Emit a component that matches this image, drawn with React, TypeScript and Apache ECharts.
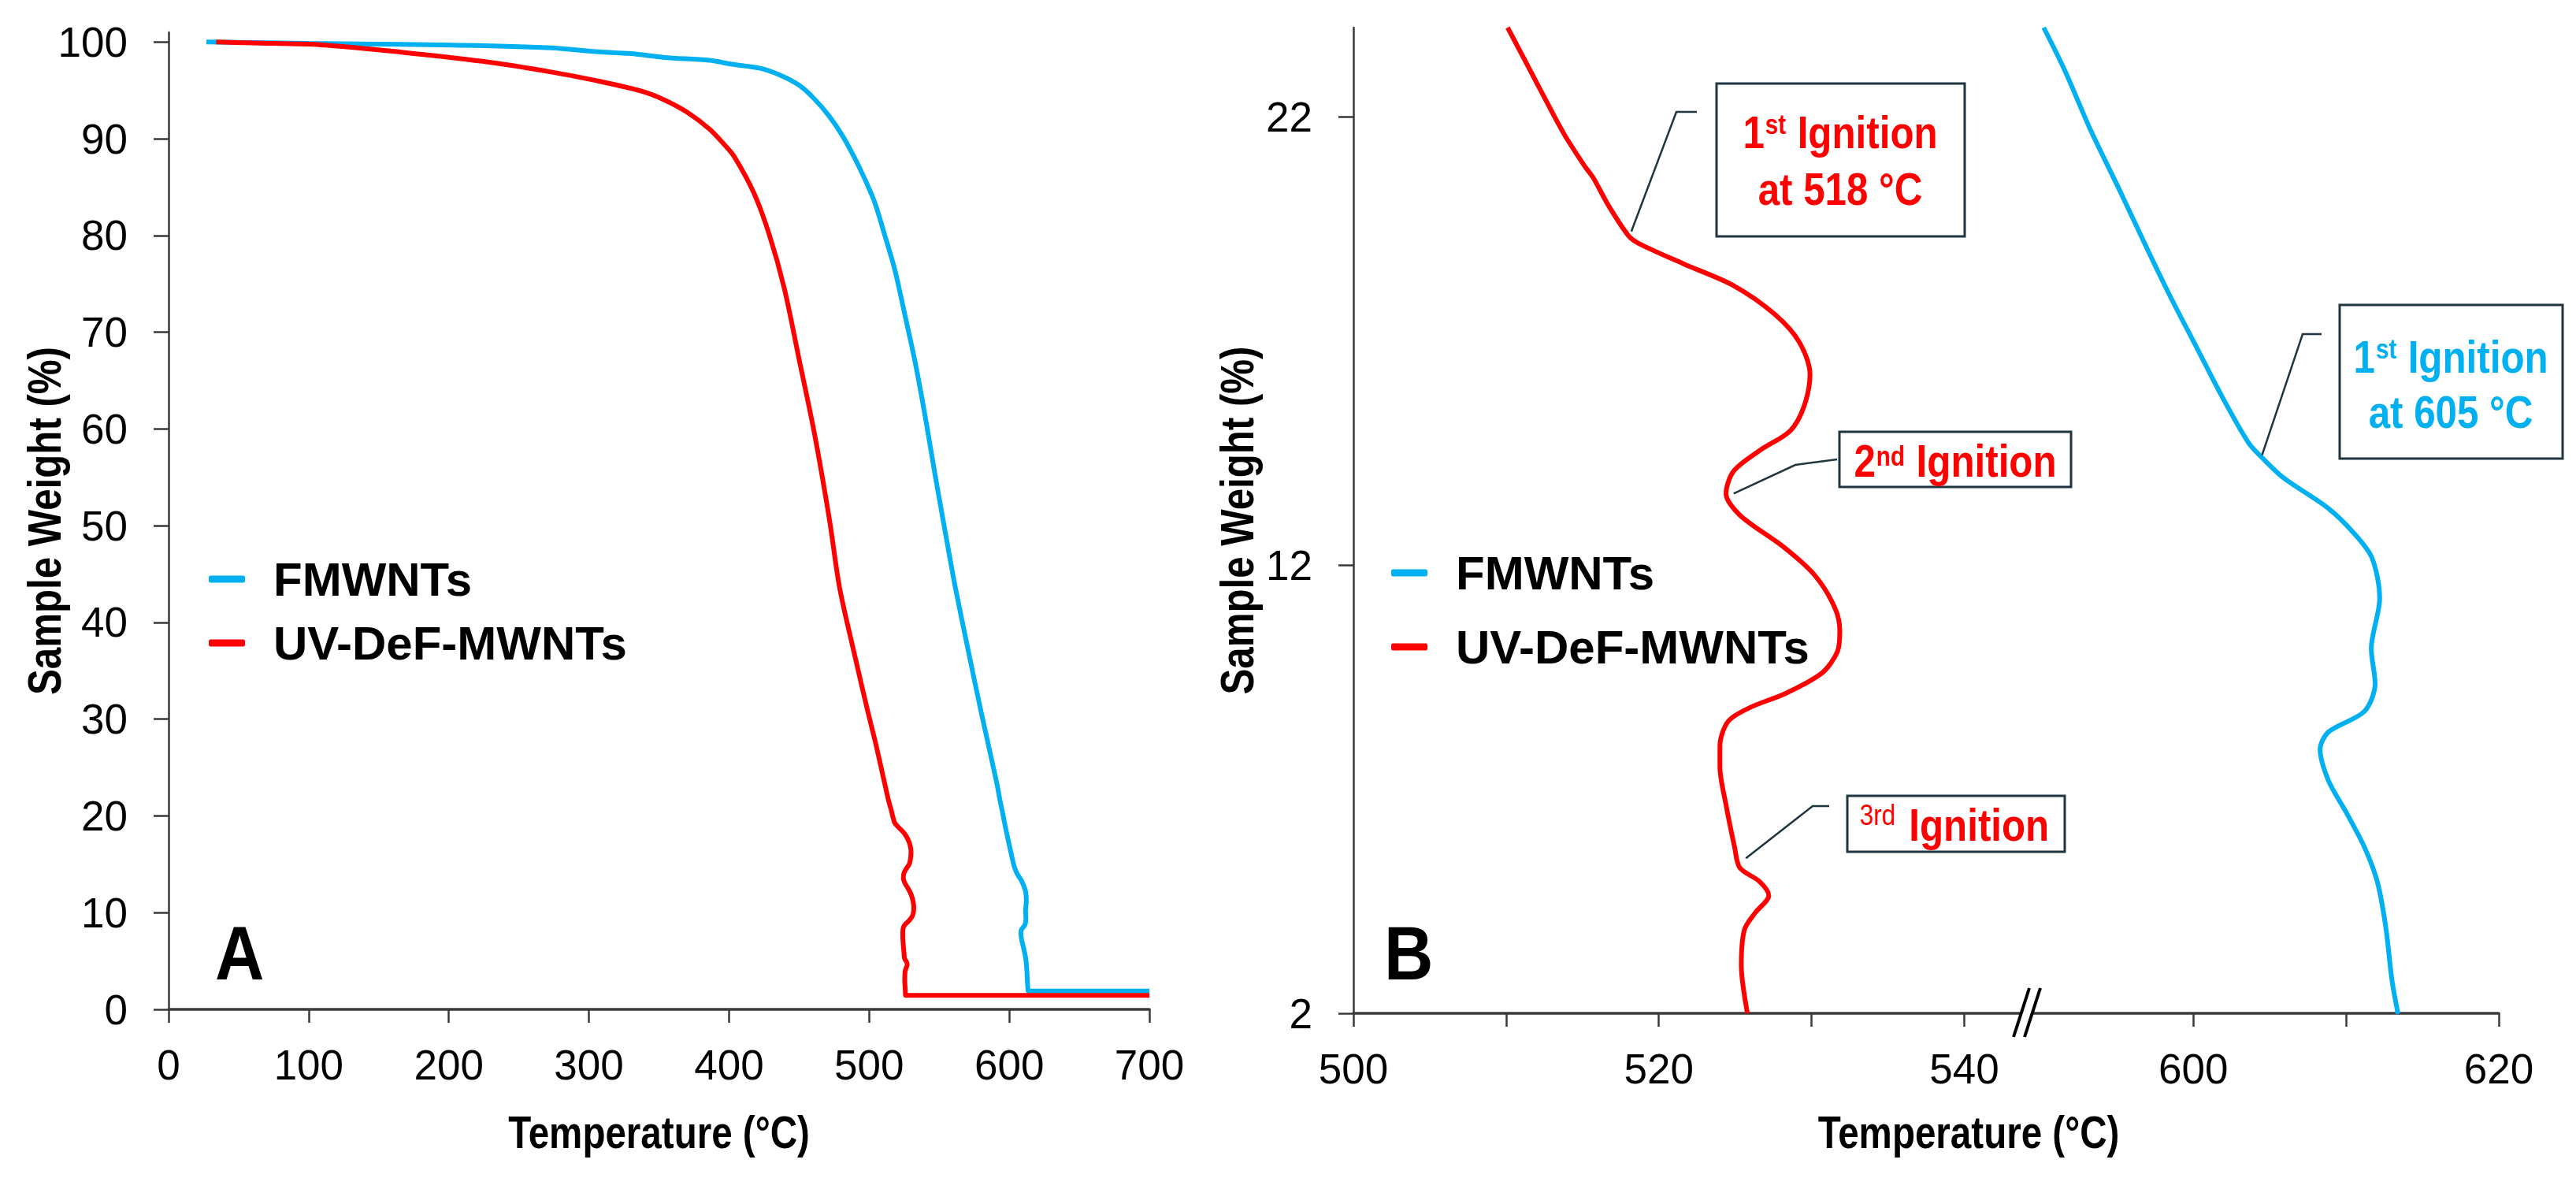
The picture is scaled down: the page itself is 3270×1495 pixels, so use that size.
import React, { useEffect, useRef } from "react";
import * as echarts from "echarts";

const FONT = "'Liberation Sans', Arial, sans-serif";
const NARROW = 0.82; // the original figure uses a condensed face
const BLUE = "#00B0F0";
const RED = "#FF0000";
const AXIS = "#3a3a3a";
const NOTE_BORDER = "#1F3540";

const seriesNames = ["FMWNTs", "UV-DeF-MWNTs"];
const xTitle = "Temperature (°C)";
const yTitle = "Sample Weight (%)";

// Panel A axes
const tempTicksA = [0, 100, 200, 300, 400, 500, 600, 700];
const weightTicksA = [0, 10, 20, 30, 40, 50, 60, 70, 80, 90, 100];
// Panel B axes (broken temperature axis)
const tempLabelsB = [500, 520, 540, 600, 620];
const tempTicksB = [500, 510, 520, 530, 540, 600, 610, 620];
const weightTicksB = [2, 12, 22];

// FMWNTs (°C, %)
const fmwntsUpper = [
  [27, 100.0], [100, 99.85], [195, 99.7], [273, 99.4], [305, 99.0], [330, 98.8], [354, 98.4],
  [386, 98.1], [402, 97.7], [421.6, 97.3], [436, 96.6], [450.3, 95.5], [461, 94.1], [471.7, 92.3],
  [481, 90.3], [489.7, 88.0], [497, 85.8], [504, 83.4], [511, 80.1], [518.4, 76.4], [525.5, 71.8],
  [532.7, 67.0], [540, 61.3], [547, 55.3], [554, 49.6], [561, 44.0], [570, 37.6], [580, 30.7],
];
const fmwntsDetail = [
  [590.2, 24.0], [591.6, 23.03], [593.3, 21.69], [595.06, 20.45], [597.06, 19.0], [598.5, 17.99],
  [600.2, 16.87], [601.9, 15.75], [603.6, 14.74], [604.5, 14.4], [605.9, 13.95], [608.8, 13.28],
  [610.5, 12.72], [611.7, 12.16], [612.2, 11.26], [611.65, 10.14], [611.9, 9.36], [611.2, 8.74],
  [608.85, 8.28], [608.3, 7.89], [608.85, 7.19], [610.0, 6.49], [611.2, 5.71], [612.05, 4.93],
  [612.6, 3.92], [613.0, 2.75], [613.4, 1.99],
];
const fmwntsTail = [[613.7, 1.9], [700, 1.9]];

// UV-DeF-MWNTs (°C, %)
const uvUpper = [
  [34, 100.0], [60, 99.9], [109, 99.7], [166, 98.95], [224, 98.0], [273, 96.9], [305.5, 96.0],
  [338, 94.9], [354, 94.0], [370, 92.75], [386, 91.0], [396, 89.5], [403.5, 88.2], [417.7, 84.4],
  [428.7, 80.1], [439.5, 74.5], [450.3, 67.0], [461, 59.5], [471.7, 50.6], [478.9, 43.6],
  [489.7, 36.6], [498.7, 31.0], [504.5, 27.6],
];
const uvDetail = [
  [510.1, 24.0], [511.8, 22.9], [513.75, 21.65], [515.1, 20.93], [515.7, 20.65], [516.7, 20.03],
  [518.0, 19.36], [518.7, 19.18], [521.6, 18.73], [524.9, 18.24], [527.6, 17.6], [529.2, 16.98],
  [529.9, 16.26], [529.5, 15.54], [528.6, 15.0], [526.6, 14.56], [524.9, 14.1], [524.4, 13.6],
  [525.3, 13.12], [528.2, 12.4], [530.2, 11.78], [531.5, 11.07], [531.85, 10.54], [531.7, 10.08],
  [530.7, 9.6], [528.3, 9.14], [526.0, 8.83], [524.55, 8.52], [524.0, 7.97], [524.0, 7.5],
  [524.4, 6.65], [524.96, 5.71], [525.3, 5.25], [526.6, 4.94], [527.2, 4.63], [526.3, 4.24],
  [525.6, 3.86], [525.4, 3.08], [525.8, 2.0],
];
const uvTail = [[526.0, 1.45], [700, 1.45]];

// Broken axis mapping for panel B: 500–544.5 and 589–620 on one value axis
const toV = (t: number) => (t <= 544.5 ? t - 500 : t - 545);
const fromV = (v: number) => (v <= 44.25 ? v + 500 : v + 545);
const breakV = 44;

// Annotation anchors on curves (°C, %)
const note1Anchor = [518.2, 19.45];
const note2Anchor = [524.9, 13.6];
const note3Anchor = [525.7, 5.46];
const note4Anchor = [604.5, 14.46];

const axisCommon = {
  axisLine: { show: true, onZero: false, lineStyle: { color: AXIS, width: 2.5 } },
  splitLine: { show: false },
};

export default function App() {
  const ref = useRef<HTMLDivElement>(null);

  useEffect(() => {
    document.body.style.margin = "0";
    if (!ref.current) return;
    const chart = echarts.init(ref.current, undefined, { renderer: "svg" });

    const labelStyle = { fontFamily: FONT, fontSize: 53, color: "#000" };
    const legendText = {
      fontFamily: FONT, fontWeight: "bold" as const, fontSize: 60, color: "#000",
      lineHeight: 70, padding: [0, 0, 0, 31],
    };
    const xTickCommon = { show: true, inside: false, length: 17, lineStyle: { color: AXIS, width: 2.5 } };
    const yTickCommon = { show: true, inside: false, length: 19, lineStyle: { color: AXIS, width: 2.5 } };
    const lineCommon = { type: "line", symbol: "none", smooth: 0.3 };

    const option: any = {
      animation: false,
      backgroundColor: "#fff",
      grid: [
        { left: 214, top: 41, width: 1245, height: 1240, outerBoundsMode: "none" },
        { left: 1718, top: 35, width: 1454, height: 1251, outerBoundsMode: "none" },
      ],
      xAxis: [
        {
          ...axisCommon,
          type: "value", gridIndex: 0, min: 0, max: 700, interval: 100,
          axisLine: { show: true, onZero: false, lineStyle: { color: AXIS, width: 3.5 } },
          axisTick: { ...xTickCommon, customValues: tempTicksA },
          axisLabel: { ...labelStyle, margin: 44, customValues: tempTicksA },
        },
        {
          ...axisCommon,
          type: "value", gridIndex: 1, min: 0, max: 75,
          axisLine: { show: true, onZero: false, lineStyle: { color: AXIS, width: 3.5 } },
          axisTick: { ...xTickCommon, customValues: tempTicksB.map(toV) },
          axisLabel: {
            ...labelStyle, margin: 44, customValues: tempLabelsB.map(toV),
            formatter: (v: number) => String(Math.round(fromV(v))),
          },
        },
      ],
      yAxis: [
        {
          ...axisCommon,
          type: "value", gridIndex: 0, min: 0, max: 101,
          axisTick: { ...yTickCommon, customValues: weightTicksA },
          axisLabel: { ...labelStyle, margin: 52, customValues: weightTicksA },
        },
        {
          ...axisCommon,
          type: "value", gridIndex: 1, min: 2, max: 24,
          axisTick: { ...yTickCommon, customValues: weightTicksB },
          axisLabel: { ...labelStyle, margin: 52, customValues: weightTicksB },
        },
      ],
      legend: [
        {
          data: seriesNames, orient: "vertical", left: 265, top: 700, padding: 0,
          itemWidth: 46, itemHeight: 9, itemGap: 11, icon: "roundRect",
          selectedMode: false, textStyle: legendText,
        },
        {
          data: seriesNames, orient: "vertical", left: 1766, top: 692, padding: 0,
          itemWidth: 46, itemHeight: 9, itemGap: 24, icon: "roundRect",
          selectedMode: false, textStyle: legendText,
        },
      ],
      series: [
        {
          ...lineCommon, name: seriesNames[0], xAxisIndex: 0, yAxisIndex: 0,
          data: [...fmwntsUpper, ...fmwntsDetail, ...fmwntsTail],
          lineStyle: { color: BLUE, width: 6 }, itemStyle: { color: BLUE },
        },
        {
          ...lineCommon, name: seriesNames[1], xAxisIndex: 0, yAxisIndex: 0,
          data: [...uvUpper, ...uvDetail, ...uvTail],
          lineStyle: { color: RED, width: 6 }, itemStyle: { color: RED },
        },
        {
          ...lineCommon, name: seriesNames[0], xAxisIndex: 1, yAxisIndex: 1,
          data: fmwntsDetail.map(([t, w]) => [toV(t), w]),
          lineStyle: { color: BLUE, width: 6 }, itemStyle: { color: BLUE },
        },
        {
          ...lineCommon, name: seriesNames[1], xAxisIndex: 1, yAxisIndex: 1,
          data: uvDetail.map(([t, w]) => [toV(t), w]),
          lineStyle: { color: RED, width: 6 }, itemStyle: { color: RED },
        },
      ],
    };

    chart.setOption(option);

    const pB = (t: number, w: number) =>
      chart.convertToPixel({ gridIndex: 1 } as any, [toV(t), w]) as unknown as number[];

    const bx = chart.convertToPixel({ xAxisIndex: 1 } as any, breakV) as unknown as number;
    const by = chart.convertToPixel({ yAxisIndex: 1 } as any, 2) as unknown as number;

    const gA = { l: 214, t: 41, r: 1459, b: 1281 };
    const gB = { l: 1718, t: 35, r: 3172, b: 1286 };

    const bold = (color: string) => ({
      fontFamily: FONT, fontWeight: "bold", fontSize: 58, lineHeight: 70, fill: color,
    });
    const sup = (color: string, pad: number) => ({
      fontFamily: FONT, fontWeight: "bold", fontSize: 35, lineHeight: 40, fill: color,
      verticalAlign: "top", padding: [pad, 1, 0, 1],
    });
    const mkText = (x: number, y: number, text: string, color: string, extraRich: any = {}) => ({
      type: "text", x, y, z: 20, scaleX: NARROW + 0.03,
      style: {
        text, align: "center", verticalAlign: "middle",
        fontFamily: FONT, fontWeight: "bold", fontSize: 58, fill: color,
        rich: { b: bold(color), s: sup(color, 8), ...extraRich },
      },
    });
    const title = (x: number, y: number, text: string, size: number, rotation = 0) => ({
      type: "text", x, y, z: 20, scaleX: NARROW, rotation,
      style: {
        text, align: "center", verticalAlign: "middle",
        fontFamily: FONT, fontWeight: "bold", fontSize: size, fill: "#000",
      },
    });
    const box = (x: number, y: number, w: number, h: number) => ({
      type: "rect", z: 15, shape: { x, y, width: w, height: h },
      style: { fill: "#fff", stroke: NOTE_BORDER, lineWidth: 3 },
    });
    const leader = (a: number[], p1: number[], p2: number[]) => ({
      type: "polyline", z: 15, shape: { points: [a, p1, p2] },
      style: { fill: "none", stroke: NOTE_BORDER, lineWidth: 2.5 },
    });

    const a1 = pB(note1Anchor[0], note1Anchor[1]);
    const a2 = pB(note2Anchor[0], note2Anchor[1]);
    const a3 = pB(note3Anchor[0], note3Anchor[1]);
    const a4 = pB(note4Anchor[0], note4Anchor[1]);

    chart.setOption({
      graphic: [
        // axis titles
        title((gA.l + gA.r) / 2, gA.b + 156, xTitle, 58),
        title(2499, gB.b + 151, xTitle, 58),
        title(gA.l - 158, (gA.t + gA.b) / 2, yTitle, 60, Math.PI / 2),
        title(gB.l - 148, (gB.t + gB.b) / 2, yTitle, 60, Math.PI / 2),
        // panel letters
        { type: "text", x: 273, y: 1209, z: 20, scaleX: 0.9, style: { text: "A", fontFamily: FONT, fontWeight: "bold", fontSize: 96, fill: "#000", align: "left", verticalAlign: "middle" } },
        { type: "text", x: 1757, y: 1209, z: 20, scaleX: 0.9, style: { text: "B", fontFamily: FONT, fontWeight: "bold", fontSize: 96, fill: "#000", align: "left", verticalAlign: "middle" } },
        // axis break mark
        { type: "rect", z: 18, shape: { x: bx - 6, y: by - 8, width: 14, height: 16 }, style: { fill: "#fff" } },
        { type: "line", z: 19, shape: { x1: bx - 15, y1: by + 30, x2: bx + 5, y2: by - 32 }, style: { stroke: "#000", lineWidth: 4 } },
        { type: "line", z: 19, shape: { x1: bx - 1, y1: by + 30, x2: bx + 19, y2: by - 32 }, style: { stroke: "#000", lineWidth: 4 } },
        // 1st ignition (red)
        leader(a1, [2128, 142], [2154, 142]),
        box(2179, 106, 315, 194),
        mkText(2336, 168, "{b|1}{s|st}{b| Ignition}", RED),
        mkText(2336, 240, "{b|at 518 °C}", RED),
        // 2nd ignition
        leader(a2, [2279, 590], [2332, 583]),
        box(2335, 548, 294, 70),
        mkText(2482, 585, "{b|2}{s|nd}{b| Ignition}", RED, { s: sup(RED, 12) }),
        // 3rd ignition
        leader(a3, [2301, 1023], [2322, 1023]),
        box(2345, 1010, 276, 71),
        mkText(2481, 1047, "{r|3rd}{b| Ignition}", RED, {
          r: { fontFamily: FONT, fontWeight: "normal", fontSize: 37, lineHeight: 40, fill: RED, verticalAlign: "top", padding: [4, 4, 0, 0] },
        }),
        // 1st ignition (blue)
        leader(a4, [2923, 424], [2947, 424]),
        box(2970, 387, 283, 195),
        mkText(3111, 453, "{b|1}{s|st}{b| Ignition}", BLUE),
        mkText(3111, 523, "{b|at 605 °C}", BLUE),
      ],
    });

    return () => chart.dispose();
  }, []);

  return <div ref={ref} style={{ width: 3270, height: 1495 }} />;
}
